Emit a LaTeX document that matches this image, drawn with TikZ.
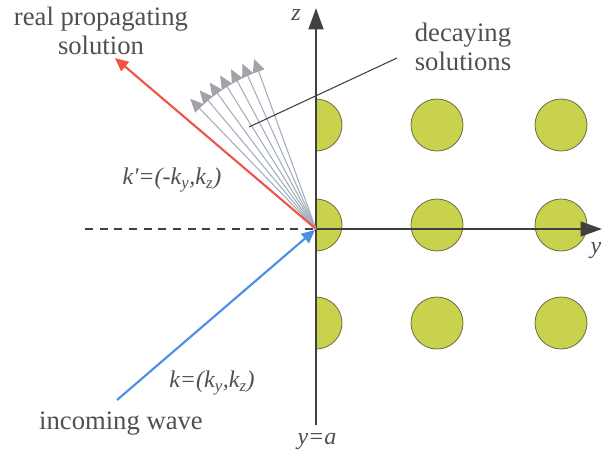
\documentclass[tikz,border=0pt]{standalone}
\usepackage{fontspec}
\setmainfont{Liberation Serif}
\usetikzlibrary{arrows.meta}
\definecolor{txtgray}{HTML}{505050}
\definecolor{axgray}{HTML}{404040}
\definecolor{rodfill}{HTML}{C9D24C}
\definecolor{rodline}{HTML}{6B6B45}
\definecolor{redray}{HTML}{F05448}
\definecolor{blueray}{HTML}{4A8FE8}
\definecolor{fanline}{HTML}{A3AEBC}
\definecolor{fanhead}{HTML}{A0A4A8}

\begin{document}
\begin{tikzpicture}[x=0.75pt,y=0.75pt,
	axis/.style={draw=axgray, line width=1.7pt, -{Triangle[length=16pt,width=11pt]}},
	rod/.style={fill=rodfill, draw=rodline, line width=0.6pt},
	ray/.style={line width=1.6pt, -{Triangle[length=10pt,width=9pt]}},
	fan/.style={draw=fanline, line width=0.8pt, -{Triangle[length=10pt,width=9pt,color=fanhead]}},
	txt/.style={text=txtgray, align=center, inner sep=0pt, font=\fontsize{20}{22}\selectfont},
	vtxt/.style={text=txtgray, inner sep=0pt, font=\fontsize{18}{20}\selectfont\itshape}]
\useasboundingbox (-316,-226) rectangle (286,229);
\coordinate (O) at (0,0);
% rods of the lattice
\foreach \y in {104,4,-94} {
	\foreach \x in {121,245}
		\filldraw[rod] (\x,\y) circle (26);
	\filldraw[rod] (0,\y-26) arc (-90:90:26) -- cycle;
}
% axes
\coordinate (zbot) at (0,-196);
\coordinate (ztop) at (0,221);
\coordinate (yend) at (286,0);
\coordinate (dleft) at (-231,0);
\draw[axis] (zbot) -- (ztop);
\draw[axis] (O) -- (yend);
\draw[axgray, dashed, line width=0.9pt, dash pattern=on 6pt off 5pt] (dleft) -- (O);
% decaying solutions
\foreach \a in {110,114,...,134} {
	\coordinate (f\a) at (\a:181);
	\draw[fan] (O) -- (f\a);
}
% incoming and reflected wave
\coordinate (kin) at (-199,-171);
\coordinate (kout) at (-201,171);
\draw[ray, redray] (O) -- (kout);
\draw[ray, blueray, shorten >=1pt] (kin) -- (O);
% leader
\coordinate (lfan) at (-67,102);
\coordinate (ltxt) at (81,171);
\draw[axgray, line width=0.8pt] (lfan) -- (ltxt);
%
\node[txt] (real) at (-215,198) {real propagating\\solution};
\node[txt] (dec) at (147,182) {decaying\\solutions};
\node[txt] (inc) at (-195,-195) {incoming wave};
\node[vtxt] (zl) at (-20,214) {z};
\node[vtxt] (yl) at (280,-22) {y};
\node[vtxt] (ya) at (1,-212) {y=a};
\node[vtxt] (kp) at (-144,49) {k\textquotesingle=(-k\textsubscript{y},k\textsubscript{z})};
\node[vtxt] (k) at (-104,-154) {k=(k\textsubscript{y},k\textsubscript{z})};
\end{tikzpicture}
\end{document}
